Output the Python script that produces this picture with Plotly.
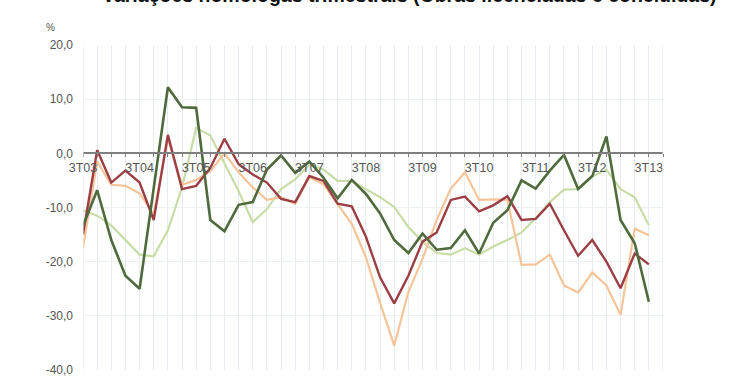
import plotly.graph_objects as go

quarters = list(range(41))  # 3T03 .. 3T13, one point per quarter
tick_labels = ["3T03", "3T04", "3T05", "3T06", "3T07", "3T08", "3T09", "3T10", "3T11", "3T12", "3T13"]

dark_green = [-13.4, -6.8, -16.0, -22.6, -25.0, -6.5, 12.2, 8.5, 8.4, -12.3,
              -14.4, -9.5, -9.0, -3.0, -0.4, -3.6, -1.5, -4.5, -8.3, -4.9,
              -7.5, -11.1, -16.0, -18.4, -14.8, -17.8, -17.5, -14.2, -18.5, -12.8,
              -10.5, -5.0, -6.5, -3.2, -0.3, -6.6, -4.2, 3.1, -12.3, -16.6, -27.4]
red = [-15.0, 0.6, -5.4, -3.2, -5.4, -12.3, 3.4, -6.6, -6.0, -2.7,
       2.7, -2.0, -3.9, -5.4, -8.4, -9.0, -4.2, -5.1, -9.3, -9.8,
       -15.4, -22.9, -27.7, -22.6, -16.3, -14.6, -8.6, -8.0, -10.7, -9.6,
       -7.9, -12.3, -12.1, -9.3, -14.2, -18.9, -16.0, -20.0, -24.9, -18.5, -20.5]
orange = [-17.5, -1.5, -5.8, -6.0, -7.4, -11.2, 2.7, -5.8, -4.9, -3.3,
          0.0, -3.5, -6.3, -8.6, -8.1, -9.3, -4.4, -5.7, -9.4, -13.0,
          -19.2, -27.6, -35.5, -25.6, -19.5, -12.3, -6.5, -3.5, -8.6, -8.5,
          -8.6, -20.6, -20.5, -18.7, -24.4, -25.7, -22.0, -24.4, -29.8, -13.9, -15.1]
light_green = [-10.5, -11.5, -13.3, -16.0, -18.7, -19.0, -14.2, -6.3, 4.7, 3.3,
               -2.0, -7.0, -12.7, -10.3, -6.6, -4.8, -2.1, -3.0, -5.1, -5.1,
               -6.6, -8.1, -9.9, -13.6, -16.3, -18.4, -18.7, -17.5, -18.7, -17.2,
               -16.0, -14.6, -12.0, -9.0, -6.7, -6.6, -4.3, -3.0, -6.6, -8.1, -13.3]

y_ticks = [-40, -30, -20, -10, 0, 10, 20]
y_text = ["-40,0", "-30,0", "-20,0", "-10,0", "0,0", "10,0", "20,0"]

fig = go.Figure()
fig.add_trace(go.Scatter(x=quarters, y=light_green, mode="lines",
                         line=dict(color="#c9dca6", width=2.2), name="Concluídas (edif.)"))
fig.add_trace(go.Scatter(x=quarters, y=orange, mode="lines",
                         line=dict(color="#f7c49a", width=2.2), name="Licenciadas (fogos)"))
fig.add_trace(go.Scatter(x=quarters, y=red, mode="lines",
                         line=dict(color="#9c3f45", width=2.4), name="Licenciadas (edif.)"))
fig.add_trace(go.Scatter(x=quarters, y=dark_green, mode="lines",
                         line=dict(color="#4f6a3c", width=2.6), name="Concluídas (fogos)"))

tickvals = list(range(42))
ticktext = [""] * 42
for k, lab in enumerate(tick_labels):
    ticktext[4 * k] = lab

fig.update_layout(
    width=740, height=389,
    margin=dict(l=83, r=77, t=45, b=13),
    paper_bgcolor="white", plot_bgcolor="white",
    showlegend=False,
    font=dict(family="Arial, Liberation Sans, sans-serif", color="#555555"),
    xaxis=dict(
        range=[0, 41], tickvals=tickvals, ticktext=ticktext,
        showgrid=True, gridcolor="#e6ecf0", gridwidth=1,
        anchor="free", position=40 / 60,
        showline=True, linecolor="#7f7f7f", linewidth=1.5,
        ticks="outside", ticklen=3, tickcolor="#7f7f7f",
        tickfont=dict(size=12.5, color="#555555"),
        zeroline=False,
    ),
    yaxis=dict(
        range=[-40, 20], tickvals=y_ticks, ticktext=y_text,
        showgrid=True, gridcolor="#eef1f3", gridwidth=1,
        zeroline=False, showline=False,
        tickfont=dict(size=12, color="#555555"),
        ticks="", ticklabelstandoff=9,
    ),
)

fig.add_shape(type="line", xref="x", yref="y", x0=0, x1=0, y0=-40, y1=20,
              line=dict(color="#e6ecf0", width=1))
fig.add_shape(type="line", xref="x", yref="y", x0=41, x1=41, y0=-40, y1=20,
              line=dict(color="#dde4ea", width=1))

fig.add_annotation(x=-0.045, y=1.03, xref="paper", yref="paper", text="%",
                   showarrow=False, xanchor="right", yanchor="bottom",
                   font=dict(size=10, color="#555555"))
fig.add_annotation(x=0.5, y=0, xref="paper", yref="paper",
                   text="<b>Variações homólogas trimestrais (Obras licenciadas e concluídas)</b>",
                   showarrow=False, xanchor="center", yanchor="middle", yshift=375,
                   xshift=36, font=dict(size=19.5, color="#111111"))

fig.write_html("out.html")
